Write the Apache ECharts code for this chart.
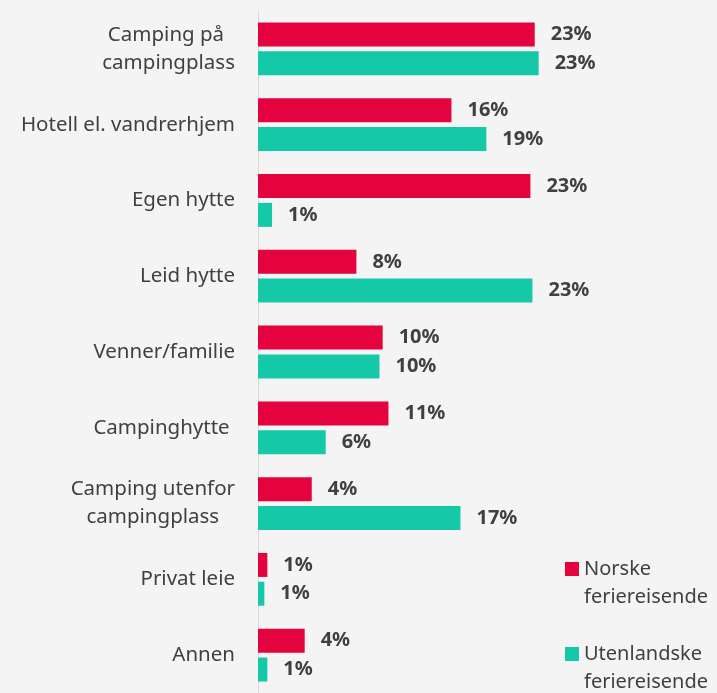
<!DOCTYPE html>
<html>
<head>
<meta charset="utf-8">
<script src="https://cdn.jsdelivr.net/npm/echarts@6/dist/echarts.min.js"></script>
<style>
  html, body { margin: 0; padding: 0; background: #F4F4F4; }
  #chart { width: 717px; height: 693px; }
</style>
</head>
<body>
<div id="chart"></div>
<script>
  var categories = ['Camping på \ncampingplass', 'Hotell el. vandrerhjem', 'Egen hytte', 'Leid hytte',
    'Venner/familie', 'Campinghytte ', 'Camping utenfor\ncampingplass', 'Privat leie', 'Annen'];
  var norske = [23.06, 16.12, 22.7, 8.2, 10.39, 10.87, 4.48, 0.78, 3.89];
  var utenlandske = [23.39, 19.03, 1.17, 22.87, 10.12, 5.64, 16.87, 0.53, 0.78];
  var seriesNames = ['Norske\nferiereisende', 'Utenlandske\nferiereisende'];

  var chart = echarts.init(document.getElementById('chart'));
  var labelStyle = {
    show: true,
    position: 'right',
    distance: 16,
    color: '#404040',
    fontFamily: 'Noto Sans',
    fontWeight: 'bold',
    fontSize: 20,
    formatter: function (p) { return Math.round(p.value) + '%'; }
  };
  chart.setOption({
    backgroundColor: '#F4F4F4',
    animation: false,
    grid: { left: 258, top: 11, width: 360, height: 687 },
    xAxis: {
      type: 'value', min: 0, max: 30,
      axisLabel: { show: false }, splitLine: { show: false },
      axisLine: { show: false }, axisTick: { show: false }
    },
    yAxis: {
      type: 'category', inverse: true, data: categories,
      axisTick: { show: false },
      axisLine: { lineStyle: { color: '#D9D9D9', width: 1 } },
      axisLabel: {
        margin: 23,
        formatter: function (v) {
          return v.split('\n').map(function (s) { return '{c|' + s + '}'; }).join('\n');
        },
        rich: {
          c: { align: 'center', color: '#404040', fontSize: 20.5, lineHeight: 28, fontFamily: 'Noto Sans' }
        }
      }
    },
    legend: {
      orient: 'vertical', left: 565, top: 531, height: 200, padding: 0, itemGap: 9,
      itemWidth: 14, itemHeight: 14, icon: 'rect',
      formatter: function (name) {
        // blank first line so the square sits beside the first text line
        return '{e| }\n' + name.split('\n').map(function (s) { return '{t|' + s + '}'; }).join('\n');
      },
      textStyle: {
        rich: {
          e: { fontSize: 20, lineHeight: 28 },
          t: { color: '#404040', fontSize: 20, lineHeight: 28, fontFamily: 'Noto Sans' }
        }
      },
      data: seriesNames
    },
    series: [
      {
        name: seriesNames[0], type: 'bar', data: norske, barWidth: 24, barGap: '20%',
        itemStyle: { color: '#E4023F' }, label: labelStyle
      },
      {
        name: seriesNames[1], type: 'bar', data: utenlandske, barWidth: 24,
        itemStyle: { color: '#14C8A8' }, label: labelStyle
      }
    ]
  });
</script>
</body>
</html>
